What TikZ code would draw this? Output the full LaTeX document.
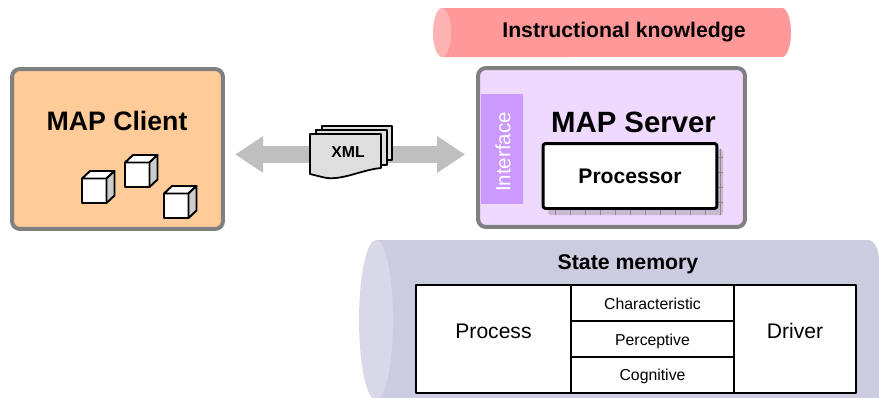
\documentclass[tikz,border=0pt]{standalone}
\usepackage{fontspec}
\setmainfont{Liberation Sans}
\usetikzlibrary{arrows.meta}
\definecolor{clientfill}{HTML}{FFCC99}
\definecolor{serverfill}{HTML}{F0D9FF}
\definecolor{ifacefill}{HTML}{CC99FF}
\definecolor{shadowfill}{HTML}{C9B8D2}
\definecolor{knowfill}{HTML}{FF9999}
\definecolor{knowend}{HTML}{FFB3B3}
\definecolor{statefill}{HTML}{CCCCE0}
\definecolor{stateend}{HTML}{D8D8E8}
\tikzset{
 mapbox/.style={draw=black!50,line width=2.27pt,rounded corners=4.5pt},
 cell/.style={draw=black,fill=white,line width=1.1pt,inner sep=0pt},
 smallcell/.style={cell,minimum width=3.26cm,minimum height=0.72cm},
 smalltext/.style={font=\fontsize{9}{11}\selectfont},
 sheet/.style={draw=black,fill=black!13,line width=1pt,line join=round},
 cube/.style={draw=black,line width=1.1pt,line join=round},
 bigarrow/.style={line width=9.9pt,draw=black!25,{Triangle[width=19.8pt,length=15.9pt]}-{Triangle[width=19.8pt,length=15.9pt]},shorten <=5.8pt,shorten >=6.2pt}
}
\begin{document}
\begin{tikzpicture}[line cap=round,line join=round,x=0.02cm,y=0.02cm]
 \useasboundingbox (0,0) rectangle (879,397);
 \clip (0,0) rectangle (879,397);
 % boxes
 \node[mapbox,fill=clientfill,minimum width=4.22cm,minimum height=3.2cm] (client) at (117.5,248) {};
 \node[mapbox,fill=serverfill,minimum width=5.34cm,minimum height=3.18cm] (server) at (611.5,249.5) {};
 \node[font=\bfseries\fontsize{15.2}{18}\selectfont] (clientname) at (117,276) {MAP Client};
 \node[font=\bfseries\fontsize{16.7}{20}\selectfont] (servername) at (633.5,275) {MAP Server};
 % instructional knowledge
 \fill[knowfill] (442,389) -- (782,389) arc[start angle=90,end angle=-90,x radius=0.18cm,y radius=0.49cm] -- (442,340) -- cycle;
 \fill[knowend] (442,364.5) ellipse [x radius=0.18cm,y radius=0.49cm];
 \node[font=\bfseries\fontsize{12.1}{14}\selectfont] (know) at (624,364.5) {Instructional knowledge};
 % state memory
 \fill[statefill] (376,157) -- (868,157) arc[start angle=90,end angle=0,x radius=0.22cm,y radius=0.4cm] -- (879,-3) -- (376,-3) -- cycle;
 \fill[stateend] (376,77) ellipse [x radius=0.34cm,y radius=1.6cm];
 \node[font=\bfseries\fontsize{12.1}{14}\selectfont] (state) at (628,133) {State memory};
 \node[cell,font=\fontsize{12}{14}\selectfont,minimum width=3.1cm,minimum height=2.16cm] (process) at (493.5,58) {\raisebox{9pt}{Process}};
 \node[cell,font=\fontsize{12}{14}\selectfont,minimum width=2.44cm,minimum height=2.16cm] (driver) at (795,58) {\raisebox{9pt}{Driver}};
 \node[smallcell] (character) at (652.5,94) {};
 \node[smallcell] (percept) at (652.5,58) {};
 \node[smallcell] (cognit) at (652.5,22) {};
 \node[smalltext] (charactername) at (652.5,93) {Characteristic};
 \node[smalltext] (perceptname) at (652.5,56) {Perceptive};
 \node[smalltext] (cognitname) at (652.5,20.5) {Cognitive};
 % interface and processor
 \node[fill=ifacefill,rounded corners=0.5pt,minimum width=0.84cm,minimum height=2.2cm,inner sep=0pt] (iface) at (502,248) {};
 \node[rotate=90,text=white,font=\fontsize{11.7}{14}\selectfont] (ifacename) at (503,245) {Interface};
 \fill[shadowfill,rounded corners=1.5pt] (548,182) rectangle (723,248);
 \draw[black!45,line width=0.25pt,step=0.3cm] (548,182) grid (723,248);
 \node[draw=black,fill=white,line width=1.7pt,rounded corners=1.5pt,minimum width=3.48cm,minimum height=1.3cm,font=\bfseries\fontsize{12}{14}\selectfont] (proc) at (630,221) {Processor};
 % cubes
 \foreach \cx/\cy in {82/194,125/210,164/179}{
  \draw[cube,fill=white] (\cx,\cy) rectangle ++(24.5,24.5);
  \draw[cube,fill=white] (\cx,\cy+24.5) -- ++(8,7.5) -- ++(24.5,0) -- ++(-8,-7.5) -- cycle;
  \draw[cube,fill=black!20] (\cx+24.5,\cy) -- ++(8,7.5) -- ++(0,24.5) -- ++(-8,-7.5) -- cycle;
 }
 % exchange arrow and documents
 \coordinate (xmlmid) at (350,242.5);
 \draw[bigarrow] (client.east |- xmlmid) -- (server.west |- xmlmid);
 \draw[sheet] (322,271) -- (392,271) -- (392,237) -- (322,237) -- cycle;
 \draw[sheet] (316,267) -- (387,267) -- (387,232) -- (316,232) -- cycle;
 \draw[sheet] (310,263) -- (381,263) -- (381,229) .. controls (360,227) and (340,215) .. (322,220) .. controls (318,221) and (314,222) .. (310,223) -- cycle;
 \node[font=\bfseries\fontsize{9}{11}\selectfont] (xml) at (348,245) {XML};
\end{tikzpicture}
\end{document}
